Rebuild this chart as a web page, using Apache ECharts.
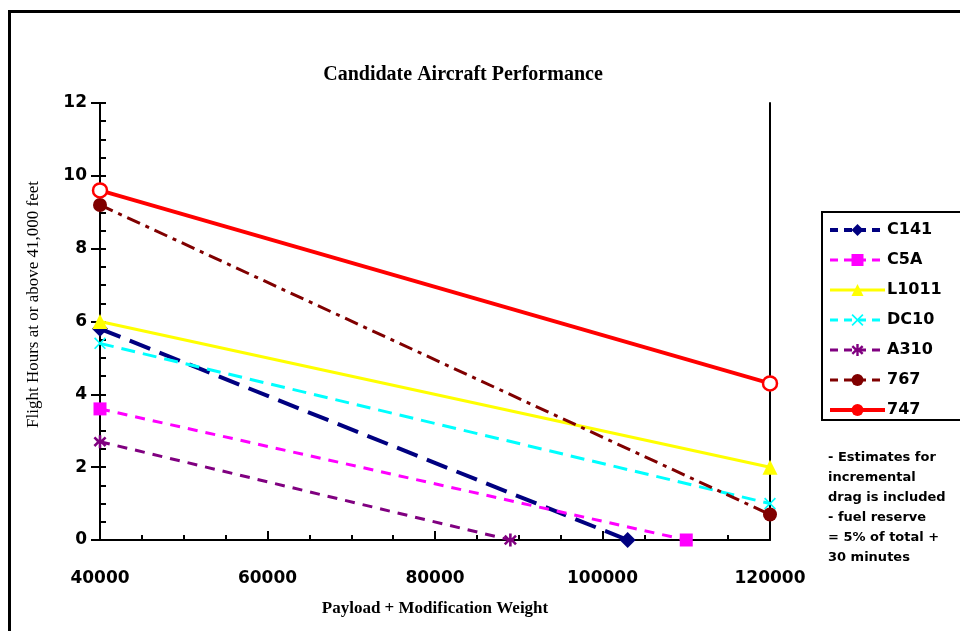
<!DOCTYPE html>
<html>
<head>
<meta charset="utf-8">
<script src="https://cdn.jsdelivr.net/npm/echarts@6/dist/echarts.min.js"></script>
<style>
  html, body { margin: 0; padding: 0; background: #fff; }
  #chart { width: 960px; height: 631px; }
</style>
</head>
<body>
<div id="chart"></div>
<script>
// aircraft and their two end points (payload weight, flight hours)
const aircraft = ['C141', 'C5A', 'L1011', 'DC10', 'A310', '767', '747'];
const startWeight = [40000, 40000, 40000, 40000, 40000, 40000, 40000];
const startHours = [5.8, 3.6, 6.0, 5.4, 2.7, 9.2, 9.6];
const endWeight = [103000, 110000, 120000, 120000, 89000, 120000, 120000];
const endHours = [0, 0, 2.0, 1.0, 0, 0.7, 4.3];
const noteLines = ['- Estimates for', 'incremental', 'drag is included', '- fuel reserve', '= 5% of total +', '30 minutes'];

const xShape = 'path://M1,0L5,4L9,0L10,1L6,5L10,9L9,10L5,6L1,10L0,9L4,5L0,1Z';
const starShape = 'path://M4,0H6V3.6L8.6,1L10,2.4L7.4,5L10,7.6L8.6,9L6,6.4V10H4V6.4L1.4,9L0,7.6L2.6,5L0,2.4L1.4,1L4,3.6Z';

// hollow: white fill with coloured ring on the chart, filled in the legend
const looks = [
  { color: '#000080', symbol: 'diamond', size: 16, width: 4, type: [22, 10] },
  { color: '#ff00ff', symbol: 'rect', size: 13, width: 3, type: [10, 8] },
  { color: '#ffff00', symbol: 'triangle', size: 15, width: 3, type: 'solid' },
  { color: '#00ffff', symbol: xShape, size: 12, width: 3, type: [14, 8] },
  { color: '#800080', symbol: starShape, size: 13, width: 3, type: [10, 8] },
  { color: '#800000', symbol: 'circle', size: 14, width: 3, type: [14, 6, 4, 6] },
  { color: '#ff0000', symbol: 'circle', size: 14, width: 4, type: 'solid', hollow: true }
];

const tickFont = { color: '#000', fontFamily: 'DejaVu Sans', fontWeight: 'bold', fontSize: 17 };

const series = aircraft.map((name, i) => ({
  name: name,
  type: 'line',
  data: [[startWeight[i], startHours[i]], [endWeight[i], endHours[i]]],
  symbol: looks[i].symbol,
  symbolSize: looks[i].size,
  showAllSymbol: true,
  animation: false,
  itemStyle: looks[i].hollow
    ? { color: '#fff', borderColor: looks[i].color, borderWidth: 2.5 }
    : { color: looks[i].color, borderWidth: 0 },
  lineStyle: { color: looks[i].color, width: looks[i].width, type: looks[i].type }
}));

const legendData = aircraft.map((name, i) => ({
  name: name,
  itemStyle: { color: looks[i].color, borderWidth: 0 },
  lineStyle: { width: looks[i].width, color: looks[i].color, type: looks[i].type === 'solid' ? 'solid' : [8, 6] }
}));

const chart = echarts.init(document.getElementById('chart'));
chart.setOption({
  backgroundColor: '#fff',
  animation: false,
  title: {
    text: 'Candidate Aircraft Performance',
    left: 458, top: 60, textAlign: 'center',
    textStyle: { fontFamily: 'Liberation Serif', fontWeight: 'bold', fontSize: 20, color: '#000' }
  },
  grid: { left: 100, right: 190, top: 103, bottom: 91 },
  xAxis: {
    type: 'value', min: 40000, max: 120000, interval: 20000,
    name: 'Payload + Modification Weight',
    nameLocation: 'middle', nameGap: 60,
    nameTextStyle: { fontFamily: 'Liberation Serif', fontWeight: 'bold', fontSize: 17, color: '#000' },
    axisLine: { lineStyle: { color: '#000', width: 2 } },
    axisTick: { inside: true, length: 9, lineStyle: { color: '#000', width: 2 } },
    minorTick: { show: true, splitNumber: 4, length: 5, lineStyle: { color: '#000', width: 2 } },
    axisLabel: Object.assign({ margin: 30, formatter: v => String(v) }, tickFont),
    splitLine: { show: false }
  },
  yAxis: [
    {
      type: 'value', min: 0, max: 12, interval: 2, position: 'left',
      name: 'Flight Hours at or above 41,000 feet',
      nameLocation: 'middle', nameGap: 58,
      nameTextStyle: { fontFamily: 'Liberation Serif', fontSize: 17, color: '#000', padding: [0, 0, 0, 34] },
      axisLine: { show: true, lineStyle: { color: '#000', width: 2 } },
      axisTick: { show: true, length: 9, lineStyle: { color: '#000', width: 2 } },
      axisLabel: Object.assign({ margin: 13 }, tickFont),
      splitLine: { show: false }
    },
    {
      type: 'value', min: 0, max: 12, interval: 0.5, position: 'left',
      axisLine: { show: false },
      axisTick: { show: true, inside: true, length: 6, lineStyle: { color: '#000', width: 2 } },
      axisLabel: { show: false },
      splitLine: { show: false }
    },
    {
      type: 'value', min: 0, max: 12, interval: 2, position: 'right',
      axisLine: { show: true, lineStyle: { color: '#000', width: 2 } },
      axisTick: { show: false },
      axisLabel: { show: false },
      splitLine: { show: false }
    }
  ],
  legend: {
    orient: 'vertical',
    left: 822, top: 212,
    itemWidth: 55, itemHeight: 15, itemGap: 14,
    padding: [10, 40, 2, 6],
    borderColor: '#000', borderWidth: 2,
    textStyle: { fontFamily: 'DejaVu Sans', fontWeight: 'bold', fontSize: 16, color: '#000', padding: [0, 0, 0, -3] },
    data: legendData
  },
  graphic: [
    {
      type: 'rect', silent: true,
      shape: { x: 9.5, y: 11.5, width: 1000, height: 700 },
      style: { fill: null, stroke: '#000', lineWidth: 3 }
    },
    {
      type: 'text', left: 828, top: 448, silent: true,
      style: {
        text: noteLines.join('\n'),
        fontFamily: 'DejaVu Sans', fontWeight: 'bold', fontSize: 13,
        lineHeight: 20, fill: '#000'
      }
    }
  ],
  series: series
});
</script>
</body>
</html>
